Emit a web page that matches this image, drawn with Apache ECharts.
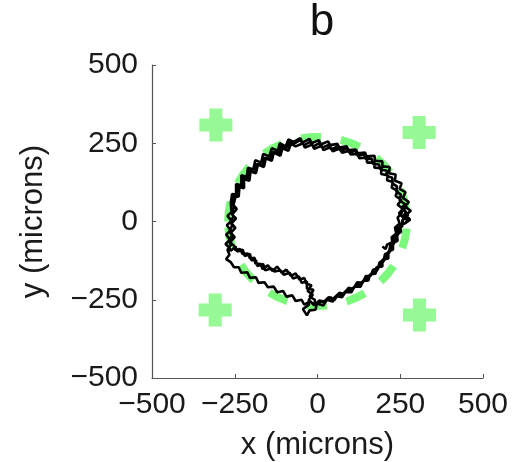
<!DOCTYPE html>
<html>
<head>
<meta charset="utf-8">
<script src="https://cdn.jsdelivr.net/npm/echarts@6/dist/echarts.min.js"></script>
<style>html,body{margin:0;padding:0;background:#fff}#c{width:514px;height:462px}</style>
</head>
<body>
<div id="c"></div>
<script>
const titleText = 'b';
const xName = 'x (microns)';
const yName = 'y (microns)';
const axisMin = -500, axisMax = 500, axisStep = 250;
const circleRadius = 270;
const targets = [[-307, 308], [307, 284], [-309, -283], [308, -299]];

const lap1 = [[262,-8],[272,4],[258,16],[268,30],[254,42],[264,56],[248,68],[252,86],[238,96],[240,112],[226,122],[226,140],[208,146],[210,162],[190,166],[186,182],[168,184],[164,200],[146,200],[140,214],[122,210],[114,226],[96,220],[88,234],[70,226],[60,240],[42,230],[32,244],[14,236],[4,250],[-12,240],[-24,254],[-40,244],[-52,260],[-68,250],[-84,254],[-92,236],[-110,240],[-118,218],[-136,222],[-142,200],[-160,204],[-166,180],[-184,184],[-188,158],[-206,162],[-208,136],[-226,138],[-226,110],[-242,112],[-240,84],[-254,84],[-256,58],[-252,46],[-260,30],[-254,16],[-262,0],[-258,-14],[-266,-30],[-258,-46],[-268,-60],[-262,-76],[-272,-90],[-266,-106],[-276,-120],[-262,-130],[-252,-146],[-238,-146],[-230,-164],[-212,-162],[-204,-180],[-186,-178],[-178,-196],[-160,-194],[-150,-210],[-132,-208],[-122,-226],[-104,-222],[-94,-240],[-76,-236],[-66,-254],[-48,-250],[-40,-266],[-22,-254],[-10,-268],[6,-252],[18,-258],[34,-242],[46,-248],[62,-232],[74,-234],[90,-218],[102,-218],[118,-202],[128,-202],[144,-182],[152,-182],[166,-162],[176,-162],[188,-142],[192,-136],[206,-118],[210,-110],[222,-90],[224,-82],[236,-62],[236,-52],[246,-32],[246,-24],[256,-6]];
const lap2 = [[250,0],[260,12],[246,26],[258,40],[242,54],[254,68],[236,82],[242,98],[224,108],[228,126],[210,132],[212,148],[192,152],[194,170],[172,172],[172,188],[150,188],[148,204],[126,202],[122,216],[100,214],[96,226],[74,220],[68,234],[46,224],[40,238],[18,228],[12,242],[-10,232],[-16,246],[-38,236],[-44,250],[-66,240],[-80,248],[-88,226],[-106,234],[-112,210],[-132,220],[-138,194],[-156,202],[-162,174],[-180,182],[-186,154],[-202,160],[-206,130],[-222,136],[-222,106],[-236,110],[-238,80],[-248,78],[-254,52],[-244,40],[-258,22],[-246,10],[-260,-6],[-248,-20],[-262,-36],[-250,-50],[-264,-66],[-252,-78],[-248,-92],[-234,-88],[-226,-104],[-210,-102],[-204,-118],[-190,-116],[-188,-134],[-172,-136],[-166,-152],[-150,-140],[-136,-158],[-122,-144],[-108,-164],[-94,-154],[-80,-174],[-66,-166],[-54,-186],[-40,-180],[-34,-198],[-18,-204],[-30,-222],[-14,-234],[-26,-250],[-26,-266],[-44,-280],[-32,-300],[-24,-284],[-6,-282],[-2,-262],[18,-268],[28,-250],[46,-256],[56,-238],[74,-242],[84,-226],[102,-226],[112,-208],[130,-208],[138,-190],[154,-188],[158,-170],[176,-166],[178,-146],[196,-144],[196,-122],[214,-118],[214,-96],[228,-90],[228,-68],[242,-62],[240,-40],[252,-34],[250,-12],[264,-6]];
const lap3 = [[270,-6],[280,6],[266,20],[282,34],[264,48],[276,62],[258,76],[266,94],[248,104],[254,122],[234,130],[236,150],[216,154],[218,174],[196,176],[196,192],[174,194],[172,210],[148,208],[144,220],[122,218],[116,230],[94,228],[88,240],[66,236],[60,248],[38,244],[32,256],[10,246],[4,260],[-18,250],[-24,264],[-46,252],[-52,266],[-72,254],[-88,262],[-96,240],[-114,250],[-120,226],[-138,234],[-146,208],[-164,216],[-170,188],[-188,196],[-194,166],[-210,172],[-214,142],[-230,148],[-230,116],[-246,120],[-246,86],[-258,88],[-262,60],[-260,54],[-260,30],[-272,18],[-260,2],[-274,-12],[-262,-28],[-276,-42],[-264,-58],[-278,-72],[-266,-84],[-262,-94],[-248,-80],[-242,-96],[-226,-90],[-220,-110],[-204,-104],[-200,-124],[-186,-124],[-182,-142],[-164,-136],[-158,-156],[-140,-150],[-130,-160],[-112,-156],[-102,-170],[-84,-164],[-74,-182],[-56,-176],[-48,-196],[-32,-192],[-32,-214],[-12,-218],[-24,-240],[-8,-250],[-8,-268],[12,-254],[22,-256],[40,-242],[50,-252],[66,-228],[80,-232],[94,-212],[108,-216],[120,-194],[136,-196],[146,-174],[160,-174],[168,-154],[182,-150],[188,-130],[200,-124],[204,-104],[216,-98],[220,-76],[230,-70],[232,-48],[244,-42],[242,-20],[256,-16],[256,4]];
const lapEnd = [[264,10],[274,22],[260,36],[270,50],[256,42],[254,26],[242,12],[248,-6],[234,-20],[238,-38],[224,-50],[226,-66],[210,-74],[206,-88],[196,-80]];

const trajectory = lap1.concat(lap2, lap3, lapEnd);

const font = "'Liberation Sans', Arial, Helvetica, sans-serif";
const fmt = v => String(v).replace('-', '\u2212');
const plusPath = 'path://M10,0H23V10H33V23H23V33H10V23H0V10H10Z';

function axisCfg(name, gap, margin) {
  return {
    type: 'value', min: axisMin, max: axisMax, interval: axisStep,
    name: name, nameLocation: 'middle', nameGap: gap,
    nameTextStyle: { fontSize: 31, color: '#1a1a1a', fontFamily: font },
    axisLine: { show: true, onZero: false, lineStyle: { color: '#555', width: 1.2 } },
    axisTick: { show: true, inside: true, length: 4, lineStyle: { color: '#555' } },
    splitLine: { show: false },
    axisLabel: { fontSize: 30, color: '#1a1a1a', fontFamily: font, margin: margin, formatter: fmt, showMinLabel: true, showMaxLabel: true }
  };
}

const chart = echarts.init(document.getElementById('c'), null, { renderer: 'canvas' });
chart.setOption({
  animation: false,
  backgroundColor: '#fff',
  title: { text: titleText, left: 317, textAlign: 'center', top: -4,
    textStyle: { fontSize: 44, fontWeight: 'normal', color: '#111', fontFamily: font } },
  grid: { left: 152, right: 31, top: 65, bottom: 84, containLabel: false, outerBoundsMode: 'none' },
  xAxis: axisCfg(xName, 52, 12),
  yAxis: axisCfg(yName, 103, 14),
  series: [
    {
      type: 'custom', z: 1, silent: true,
      data: [[0, 0, circleRadius]],
      renderItem: function (params, api) {
        const c = api.coord([api.value(0), api.value(1)]);
        const s = api.size([api.value(2), api.value(2)]);
        return {
          type: 'ellipse',
          shape: { cx: c[0], cy: c[1], rx: s[0], ry: s[1] },
          style: { fill: 'none', stroke: '#7CF87C', lineWidth: 8, lineDash: [20, 20] }
        };
      }
    },
    {
      type: 'scatter', z: 2, data: targets, symbol: plusPath, symbolSize: 33,
      itemStyle: { color: '#7CF87C' }
    },
    {
      type: 'line', z: 3, data: trajectory, showSymbol: false, symbol: 'none',
      lineStyle: { color: '#000', width: 2.6 }, smooth: false
    }
  ]
});
</script>
</body>
</html>
